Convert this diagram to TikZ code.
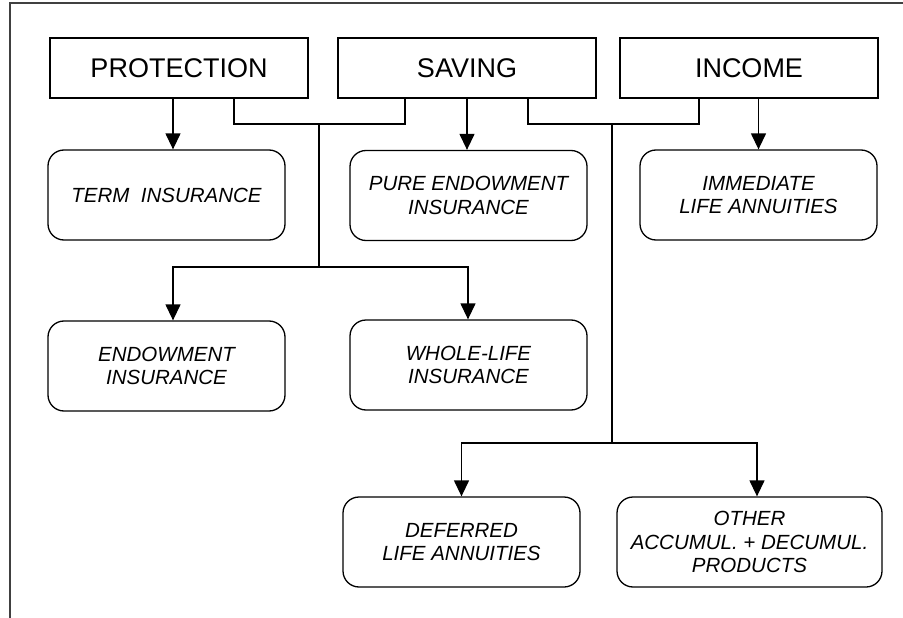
\documentclass[tikz,border=0pt]{standalone}
\usepackage{fontspec}
\setmainfont{Liberation Sans}
\usetikzlibrary{arrows.meta}
\begin{document}
\begin{tikzpicture}[x=1pt,y=-1pt,
  head/.style={draw, line width=2.4pt, minimum width=258pt, minimum height=60pt, inner sep=0pt, font=\fontsize{27}{32}\selectfont},
  prod/.style={draw, line width=1.3pt, rounded corners=16pt, minimum width=237pt, minimum height=90pt, inner sep=0pt, align=center, font=\fontsize{20.5}{23.5}\selectfont\itshape},
  conn/.style={line width=1.3pt},
  arr/.style={conn, -{Triangle[width=15pt,length=16pt]}},
  frame/.style={line width=1.3pt, black!75}]
\useasboundingbox (0,0) rectangle (903,618);
\coordinate (f1) at (10,618);
\coordinate (f2) at (10,3);
\coordinate (f3) at (903,3);
\draw[frame] (f1) -- (f2) -- (f3);

\node[head] (prot) at (179,68) {PROTECTION};
\node[head] (sav) at (467,68) {SAVING};
\node[head] (inc) at (749,68) {INCOME};

\node[prod] (term) at (166.5,195) {TERM\ \ INSURANCE};
\node[prod] (pure) at (468.5,195.5) {PURE ENDOWMENT\\INSURANCE};
\node[prod] (imm) at (758.5,195) {IMMEDIATE\\LIFE ANNUITIES};
\node[prod] (endow) at (166.5,366) {ENDOWMENT\\INSURANCE};
\node[prod] (whole) at (468.5,365) {WHOLE-LIFE\\INSURANCE};
\node[prod] (def) at (461.5,542) {DEFERRED\\LIFE ANNUITIES};
\node[prod, minimum width=265pt] (oth) at (749.5,542) {OTHER\\ACCUMUL. + DECUMUL.\\PRODUCTS};

\coordinate (j1) at (319,124);
\coordinate (j2) at (319,267);
\coordinate (j3) at (612,124);
\coordinate (j4) at (612,443);

\draw[arr] ([xshift=6.5pt]term.north |- prot.south) -- ([xshift=6.5pt]term.north);
\draw[arr] ([xshift=-1.5pt]pure.north |- sav.south) -- ([xshift=-1.5pt]pure.north);
\draw[arr] (imm.north |- inc.south) -- (imm.north);

\draw[conn] ([xshift=55pt]prot.south) |- (j1) -| ([xshift=-62pt]sav.south);
\draw[conn] (j1) -- (j2);
\draw[arr] (j2) -| ([xshift=6.5pt]endow.north);
\draw[arr] (j2) -| ([xshift=-0.5pt]whole.north);

\draw[conn] ([xshift=61pt]sav.south) |- (j3) -| ([xshift=-50pt]inc.south);
\draw[conn] (j3) -- (j4);
\draw[arr] (j4) -| (def.north);
\draw[arr] (j4) -| ([xshift=7.5pt]oth.north);
\end{tikzpicture}
\end{document}
